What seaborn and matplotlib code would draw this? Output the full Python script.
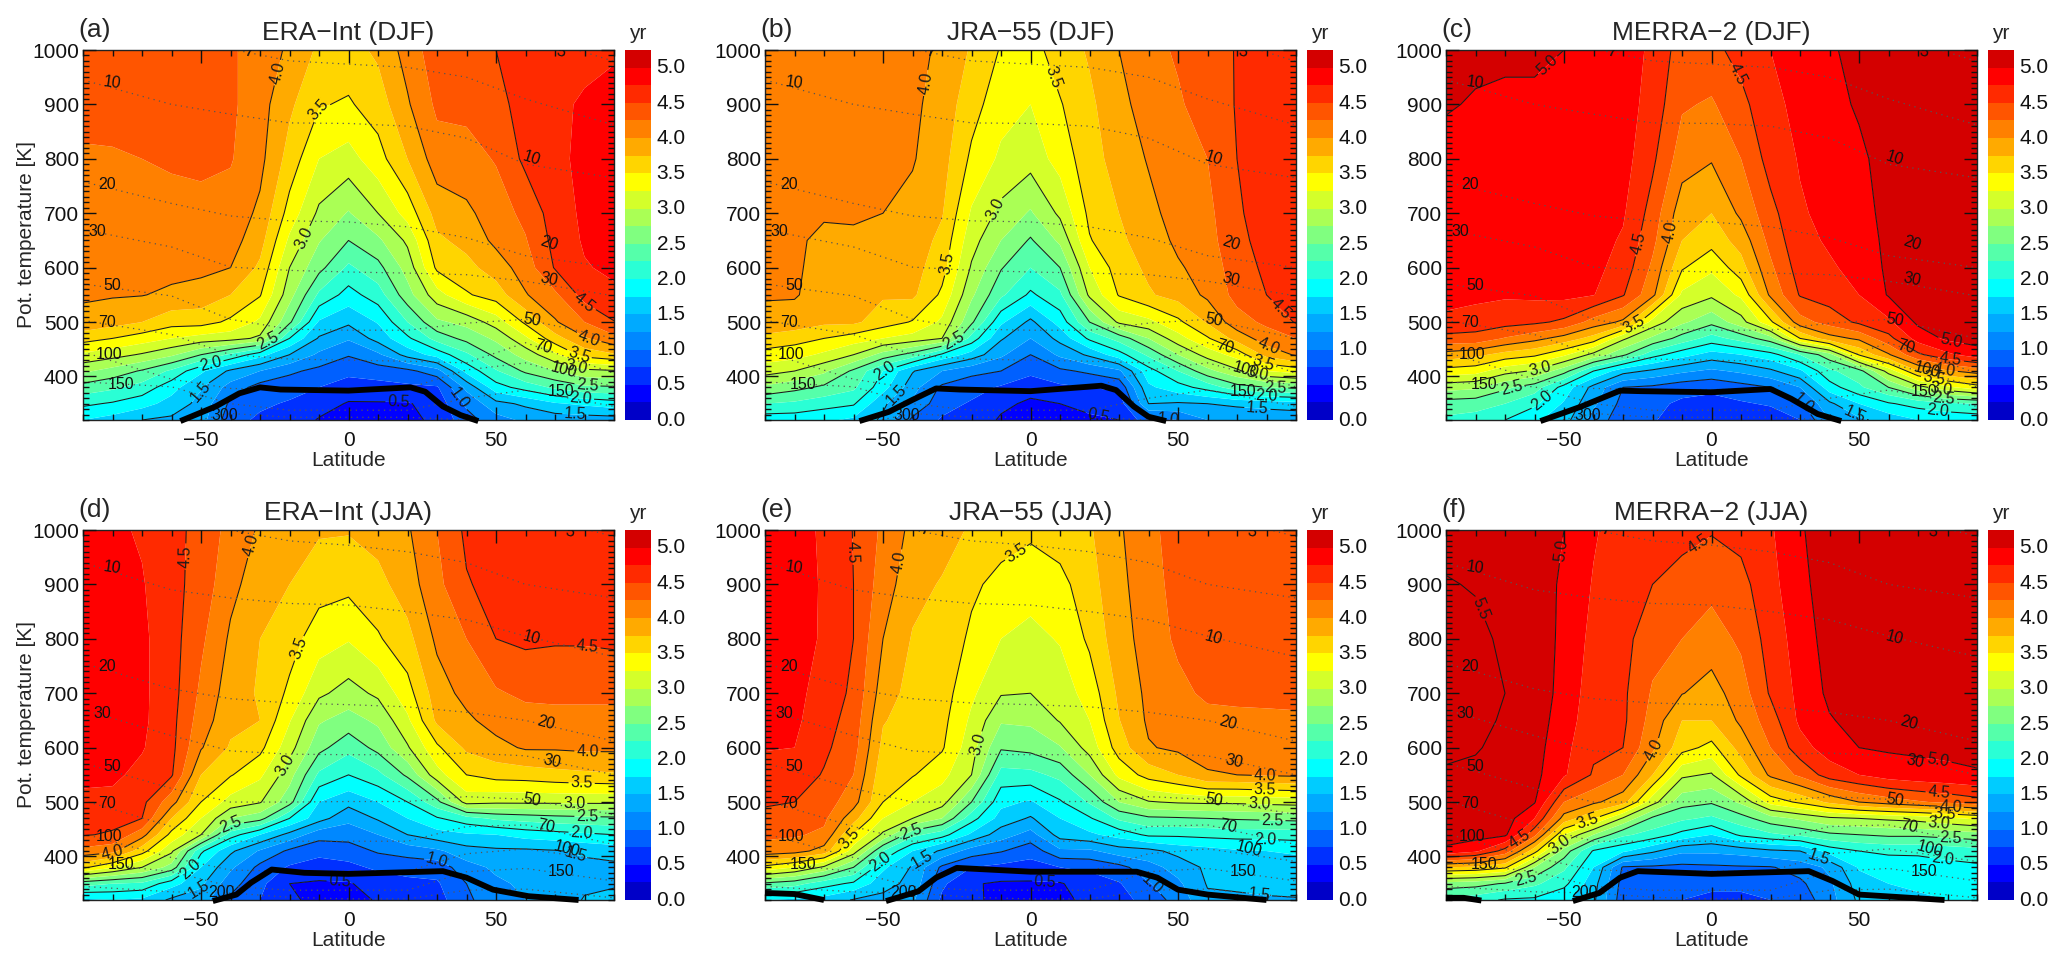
import numpy as np
import matplotlib
matplotlib.use("Agg")
import matplotlib.pyplot as plt
from matplotlib.colors import ListedColormap
from matplotlib.ticker import MultipleLocator
import seaborn as sns

lat = [-90, -80, -70, -60, -50, -40, -30, -20, -10, 0, 10, 20, 30, 40, 50, 60, 70, 80, 90]
theta = [320, 350, 380, 410, 440, 470, 500, 550, 600, 650, 700, 800, 900, 1000]

# age of air, one list per latitude, bottom to top
era_djf = [
    [1.75, 2.05, 2.40, 2.80, 3.20, 3.60, 3.93, 4.03, 4.07, 4.10, 4.15, 4.23, 4.30, 4.35],
    [1.65, 1.97, 2.30, 2.65, 3.10, 3.50, 3.85, 4.02, 4.07, 4.10, 4.15, 4.23, 4.32, 4.38],
    [1.50, 1.85, 2.15, 2.47, 2.97, 3.38, 3.75, 4.01, 4.08, 4.12, 4.16, 4.25, 4.33, 4.38],
    [1.45, 1.65, 1.85, 2.20, 2.80, 3.25, 3.60, 3.95, 4.08, 4.12, 4.17, 4.28, 4.33, 4.38],
    [1.35, 1.42, 1.52, 1.80, 2.50, 3.15, 3.60, 3.90, 4.06, 4.12, 4.18, 4.30, 4.35, 4.38],
    [0.85, 0.95, 1.15, 1.45, 2.20, 3.10, 3.45, 3.75, 4.00, 4.10, 4.15, 4.27, 4.30, 4.30],
    [0.70, 0.80, 0.90, 1.25, 1.85, 2.95, 3.20, 3.52, 3.70, 3.85, 3.95, 4.07, 4.10, 4.10],
    [0.65, 0.72, 0.85, 1.05, 1.50, 2.00, 2.55, 2.85, 3.00, 3.20, 3.40, 3.65, 3.80, 3.97],
    [0.48, 0.60, 0.75, 0.93, 1.20, 1.47, 1.72, 2.20, 2.58, 2.77, 2.95, 3.25, 3.52, 3.70],
    [0.42, 0.48, 0.63, 0.82, 1.02, 1.28, 1.55, 1.90, 2.20, 2.50, 2.73, 3.15, 3.47, 3.65],
    [0.42, 0.48, 0.65, 0.88, 1.20, 1.60, 1.77, 2.13, 2.42, 2.70, 3.00, 3.40, 3.62, 3.80],
    [0.44, 0.48, 0.70, 0.93, 1.60, 1.95, 2.25, 2.65, 2.85, 3.05, 3.35, 3.75, 3.97, 4.10],
    [0.55, 0.60, 0.72, 1.15, 1.85, 2.35, 2.70, 3.15, 3.55, 3.70, 3.85, 4.13, 4.30, 4.40],
    [0.90, 1.05, 1.32, 1.83, 2.20, 2.58, 2.83, 3.47, 3.67, 3.83, 3.95, 4.15, 4.32, 4.45],
    [1.15, 1.42, 1.90, 2.22, 2.57, 2.80, 3.12, 3.62, 3.87, 4.06, 4.12, 4.27, 4.38, 4.50],
    [1.30, 1.55, 2.10, 2.55, 2.85, 3.20, 3.55, 3.98, 4.12, 4.23, 4.32, 4.56, 4.65, 4.70],
    [1.35, 1.72, 2.30, 2.75, 3.20, 3.65, 3.97, 4.20, 4.52, 4.58, 4.62, 4.68, 4.70, 4.70],
    [1.37, 1.80, 2.45, 2.93, 3.60, 3.97, 4.25, 4.60, 4.73, 4.78, 4.80, 4.82, 4.78, 4.68],
    [1.38, 1.88, 2.47, 2.97, 3.72, 4.18, 4.49, 4.70, 4.80, 4.83, 4.85, 4.85, 4.83, 4.72],
]
jra_djf = [
    [1.85, 2.25, 2.70, 3.10, 3.40, 3.68, 3.93, 4.02, 4.05, 4.06, 4.08, 4.10, 4.13, 4.15],
    [1.85, 2.20, 2.58, 3.00, 3.35, 3.60, 3.90, 4.02, 4.03, 4.03, 4.05, 4.10, 4.15, 4.15],
    [1.80, 2.10, 2.45, 2.80, 3.20, 3.50, 3.80, 3.90, 3.93, 3.96, 4.02, 4.10, 4.15, 4.15],
    [1.70, 2.03, 2.30, 2.45, 3.00, 3.38, 3.80, 3.85, 3.90, 3.96, 4.03, 4.10, 4.13, 4.15],
    [1.45, 1.55, 1.85, 2.00, 2.65, 3.25, 3.62, 3.78, 3.85, 3.95, 4.00, 4.08, 4.10, 4.12],
    [0.95, 1.20, 1.35, 1.52, 2.40, 3.15, 3.48, 3.80, 3.85, 3.90, 3.93, 4.02, 4.05, 4.05],
    [0.72, 0.85, 0.95, 1.25, 1.95, 3.00, 3.20, 3.45, 3.60, 3.68, 3.77, 3.85, 3.90, 3.97],
    [0.65, 0.72, 0.85, 1.07, 1.65, 2.15, 2.55, 2.80, 2.97, 3.10, 3.22, 3.45, 3.60, 3.72],
    [0.47, 0.55, 0.72, 1.00, 1.30, 1.53, 1.80, 2.30, 2.52, 2.75, 2.93, 3.20, 3.35, 3.48],
    [0.40, 0.46, 0.58, 0.82, 1.00, 1.25, 1.44, 1.95, 2.25, 2.47, 2.72, 3.10, 3.25, 3.40],
    [0.42, 0.50, 0.70, 0.95, 1.30, 1.58, 1.85, 2.20, 2.50, 2.80, 3.05, 3.35, 3.48, 3.62],
    [0.47, 0.55, 0.75, 1.05, 1.55, 2.05, 2.50, 3.05, 3.25, 3.48, 3.56, 3.65, 3.70, 3.78],
    [0.50, 0.60, 0.80, 1.20, 1.90, 2.35, 3.05, 3.52, 3.62, 3.70, 3.75, 3.85, 3.92, 4.00],
    [0.90, 1.50, 1.70, 1.90, 2.30, 2.75, 3.18, 3.72, 3.80, 3.87, 3.93, 4.02, 4.12, 4.20],
    [1.00, 1.47, 1.90, 2.25, 2.75, 3.15, 3.44, 3.85, 3.97, 4.05, 4.10, 4.18, 4.23, 4.27],
    [1.25, 1.50, 2.10, 2.67, 3.10, 3.47, 3.78, 4.05, 4.10, 4.15, 4.18, 4.25, 4.32, 4.35],
    [1.30, 1.55, 2.40, 2.95, 3.35, 3.85, 4.15, 4.33, 4.38, 4.44, 4.47, 4.50, 4.52, 4.52],
    [1.30, 1.60, 2.50, 3.25, 3.83, 4.13, 4.30, 4.50, 4.55, 4.58, 4.60, 4.62, 4.62, 4.60],
    [1.30, 1.65, 2.55, 3.35, 4.03, 4.25, 4.52, 4.58, 4.60, 4.63, 4.65, 4.67, 4.67, 4.65],
]
merra_djf = [
    [2.20, 2.38, 2.85, 3.40, 3.90, 4.42, 4.70, 4.82, 4.84, 4.85, 4.88, 4.92, 5.02, 5.10],
    [2.15, 2.35, 2.80, 3.35, 3.82, 4.42, 4.62, 4.82, 4.85, 4.87, 4.90, 4.93, 4.98, 5.05],
    [2.00, 2.25, 2.55, 3.10, 3.65, 4.23, 4.60, 4.78, 4.83, 4.86, 4.90, 4.93, 4.97, 5.03],
    [1.80, 2.05, 2.37, 2.97, 3.55, 4.08, 4.55, 4.80, 4.83, 4.86, 4.90, 4.93, 4.97, 5.03],
    [1.60, 1.72, 1.90, 2.60, 3.30, 3.90, 4.45, 4.82, 4.84, 4.86, 4.90, 4.92, 4.96, 5.00],
    [1.15, 1.30, 1.42, 2.00, 2.92, 3.65, 4.15, 4.76, 4.82, 4.85, 4.88, 4.92, 4.95, 4.98],
    [0.85, 0.92, 1.00, 1.60, 2.55, 3.05, 3.95, 4.52, 4.65, 4.72, 4.78, 4.85, 4.87, 4.88],
    [0.78, 0.82, 0.95, 1.45, 2.10, 2.70, 3.15, 4.07, 4.20, 4.32, 4.40, 4.55, 4.65, 4.70],
    [0.60, 0.70, 0.85, 1.30, 1.85, 2.40, 2.80, 3.20, 3.53, 3.75, 3.85, 4.12, 4.28, 4.38],
    [0.50, 0.68, 0.80, 1.20, 1.65, 2.15, 2.57, 3.05, 3.30, 3.60, 3.75, 4.02, 4.22, 4.42],
    [0.55, 0.72, 0.90, 1.30, 1.75, 2.35, 2.90, 3.30, 3.65, 3.85, 4.05, 4.25, 4.42, 4.60],
    [0.60, 0.78, 1.00, 1.45, 1.90, 2.65, 3.45, 4.05, 4.20, 4.33, 4.42, 4.60, 4.70, 4.75],
    [0.75, 0.95, 1.25, 1.70, 2.25, 3.50, 4.15, 4.52, 4.62, 4.68, 4.72, 4.77, 4.80, 4.85],
    [1.25, 1.45, 1.88, 2.20, 2.65, 3.90, 4.35, 4.62, 4.72, 4.78, 4.82, 4.87, 4.92, 4.97],
    [1.45, 1.75, 2.20, 2.40, 3.52, 4.05, 4.55, 4.75, 4.82, 4.85, 4.90, 4.95, 5.03, 5.07],
    [1.60, 1.97, 2.50, 3.10, 3.97, 4.42, 4.70, 5.02, 5.05, 5.07, 5.08, 5.10, 5.12, 5.14],
    [1.75, 2.10, 2.90, 3.75, 4.45, 4.85, 5.05, 5.10, 5.12, 5.13, 5.13, 5.15, 5.15, 5.15],
    [1.80, 2.20, 3.20, 3.97, 4.70, 5.05, 5.10, 5.13, 5.14, 5.15, 5.15, 5.15, 5.15, 5.15],
    [1.85, 2.25, 3.40, 4.10, 4.88, 5.10, 5.13, 5.14, 5.15, 5.15, 5.15, 5.15, 5.15, 5.15],
]
era_jja = [
    [1.70, 2.35, 3.55, 4.17, 4.52, 4.60, 4.70, 4.80, 4.85, 4.87, 4.90, 4.90, 4.87, 4.83],
    [1.75, 2.25, 3.28, 4.08, 4.47, 4.58, 4.68, 4.80, 4.83, 4.85, 4.87, 4.87, 4.85, 4.80],
    [1.70, 2.20, 3.00, 3.60, 4.10, 4.50, 4.57, 4.68, 4.77, 4.80, 4.80, 4.80, 4.77, 4.72],
    [1.45, 1.85, 2.65, 3.05, 3.42, 3.75, 4.10, 4.53, 4.57, 4.58, 4.60, 4.60, 4.58, 4.55],
    [1.38, 1.55, 1.75, 2.05, 3.00, 3.25, 3.50, 3.75, 4.02, 4.13, 4.20, 4.30, 4.40, 4.45],
    [0.95, 1.10, 1.30, 1.55, 2.12, 2.75, 3.15, 3.52, 3.72, 3.82, 3.87, 3.96, 4.07, 4.15],
    [0.75, 0.82, 0.93, 1.22, 1.75, 2.60, 3.02, 3.30, 3.57, 3.75, 3.72, 3.75, 3.87, 3.97],
    [0.55, 0.50, 0.72, 0.95, 1.42, 2.00, 2.60, 2.85, 3.10, 3.27, 3.45, 3.60, 3.75, 3.87],
    [0.42, 0.47, 0.63, 0.83, 1.10, 1.60, 1.75, 2.20, 2.58, 2.78, 3.05, 3.37, 3.60, 3.78],
    [0.42, 0.48, 0.68, 0.88, 1.10, 1.32, 1.58, 2.00, 2.33, 2.65, 2.90, 3.27, 3.57, 3.77],
    [0.52, 0.60, 0.80, 1.03, 1.25, 1.53, 1.75, 2.18, 2.58, 2.80, 3.05, 3.47, 3.67, 3.85],
    [0.60, 0.68, 0.85, 1.10, 1.50, 1.75, 2.00, 2.55, 2.97, 3.20, 3.40, 3.67, 3.88, 3.97],
    [0.65, 0.72, 0.85, 1.20, 1.65, 1.97, 2.42, 3.15, 3.45, 3.80, 3.88, 4.05, 4.18, 4.25],
    [0.95, 1.00, 1.15, 1.40, 1.72, 2.15, 3.10, 3.50, 3.80, 3.95, 4.08, 4.25, 4.48, 4.55],
    [1.15, 1.20, 1.30, 1.45, 1.75, 2.30, 3.05, 3.60, 3.92, 4.10, 4.22, 4.50, 4.58, 4.62],
    [1.25, 1.30, 1.38, 1.45, 1.85, 2.35, 3.05, 3.62, 4.03, 4.15, 4.30, 4.55, 4.62, 4.63],
    [1.33, 1.38, 1.42, 1.48, 1.90, 2.40, 3.05, 3.67, 4.03, 4.18, 4.30, 4.53, 4.60, 4.58],
    [1.52, 1.45, 1.42, 1.55, 1.95, 2.43, 3.05, 3.70, 4.05, 4.18, 4.30, 4.53, 4.58, 4.55],
    [1.58, 1.47, 1.44, 1.60, 2.00, 2.45, 3.05, 3.72, 4.05, 4.18, 4.30, 4.55, 4.56, 4.52],
]
jra_jja = [
    [1.75, 2.45, 3.43, 4.15, 4.30, 4.43, 4.53, 4.68, 4.76, 4.82, 4.87, 4.90, 4.88, 4.83],
    [1.70, 2.35, 3.25, 4.10, 4.28, 4.42, 4.50, 4.63, 4.75, 4.80, 4.82, 4.85, 4.83, 4.80],
    [1.65, 2.10, 2.95, 3.90, 4.20, 4.30, 4.38, 4.48, 4.55, 4.60, 4.65, 4.72, 4.73, 4.73],
    [1.48, 1.95, 2.50, 3.12, 3.48, 3.85, 4.10, 4.25, 4.35, 4.40, 4.45, 4.50, 4.50, 4.49],
    [1.42, 1.60, 1.80, 2.25, 2.95, 3.25, 3.50, 3.58, 3.68, 3.77, 3.87, 4.00, 4.13, 4.20],
    [1.30, 1.42, 1.47, 1.75, 2.33, 3.00, 3.25, 3.52, 3.58, 3.63, 3.66, 3.73, 3.83, 3.93],
    [0.70, 0.80, 0.95, 1.45, 2.10, 2.75, 3.10, 3.33, 3.53, 3.58, 3.62, 3.68, 3.73, 3.85],
    [0.55, 0.52, 0.75, 1.13, 1.70, 2.10, 2.50, 3.00, 3.10, 3.20, 3.30, 3.45, 3.55, 3.72],
    [0.43, 0.47, 0.68, 1.02, 1.37, 1.65, 1.82, 2.15, 2.53, 2.78, 3.02, 3.25, 3.42, 3.62],
    [0.42, 0.47, 0.65, 0.85, 1.15, 1.47, 1.72, 2.17, 2.58, 2.80, 3.00, 3.18, 3.35, 3.55],
    [0.45, 0.48, 0.75, 1.20, 1.60, 1.75, 1.97, 2.32, 2.73, 3.02, 3.12, 3.27, 3.42, 3.63],
    [0.55, 0.62, 0.80, 1.20, 1.70, 1.97, 2.28, 2.75, 3.10, 3.25, 3.35, 3.55, 3.65, 3.72],
    [0.65, 0.73, 0.92, 1.38, 1.85, 2.30, 2.75, 3.32, 3.62, 3.74, 3.80, 3.90, 3.94, 3.97],
    [0.85, 0.98, 1.15, 1.42, 2.05, 2.45, 2.98, 3.60, 3.98, 4.04, 4.06, 4.10, 4.13, 4.17],
    [1.10, 1.20, 1.35, 1.58, 2.05, 2.47, 3.03, 3.75, 4.05, 4.12, 4.18, 4.30, 4.35, 4.38],
    [1.45, 1.52, 1.55, 1.65, 2.08, 2.50, 3.05, 3.98, 4.08, 4.17, 4.30, 4.35, 4.38, 4.40],
    [1.45, 1.55, 1.60, 1.72, 2.10, 2.53, 3.05, 4.00, 4.10, 4.20, 4.30, 4.36, 4.38, 4.38],
    [1.47, 1.58, 1.63, 1.75, 2.10, 2.55, 3.08, 4.03, 4.12, 4.21, 4.30, 4.36, 4.38, 4.38],
    [1.48, 1.60, 1.65, 1.78, 2.12, 2.57, 3.10, 4.05, 4.13, 4.22, 4.30, 4.36, 4.38, 4.38],
]
merra_jja = [
    [2.15, 2.65, 3.75, 4.95, 5.10, 5.18, 5.30, 5.47, 5.55, 5.60, 5.62, 5.60, 5.52, 5.40],
    [2.10, 2.60, 3.70, 4.80, 5.10, 5.20, 5.30, 5.42, 5.53, 5.57, 5.60, 5.57, 5.48, 5.38],
    [1.97, 2.47, 3.55, 4.40, 5.05, 5.12, 5.20, 5.32, 5.40, 5.47, 5.50, 5.45, 5.30, 5.20],
    [1.95, 2.30, 2.75, 3.60, 4.32, 4.75, 5.02, 5.07, 5.10, 5.13, 5.17, 5.17, 5.12, 5.08],
    [1.80, 2.07, 2.30, 2.65, 3.25, 3.90, 4.25, 4.78, 4.82, 4.87, 4.90, 4.93, 4.96, 5.00],
    [1.55, 1.60, 1.75, 1.97, 2.75, 3.52, 4.05, 4.47, 4.55, 4.60, 4.63, 4.68, 4.73, 4.78],
    [0.85, 0.90, 0.97, 1.80, 2.30, 2.97, 3.85, 4.25, 4.50, 4.55, 4.55, 4.58, 4.60, 4.62],
    [0.80, 0.85, 0.95, 1.55, 2.15, 2.45, 3.10, 3.75, 4.05, 4.15, 4.22, 4.35, 4.50, 4.60],
    [0.75, 0.82, 0.93, 1.30, 1.92, 2.30, 2.60, 3.05, 3.60, 3.75, 4.01, 4.25, 4.42, 4.57],
    [0.70, 0.80, 0.95, 1.30, 1.75, 2.20, 2.53, 2.97, 3.42, 3.75, 3.90, 4.13, 4.33, 4.52],
    [0.70, 0.80, 0.97, 1.35, 2.05, 2.40, 2.80, 3.55, 3.85, 4.05, 4.13, 4.30, 4.42, 4.58],
    [0.75, 0.85, 0.98, 1.45, 2.20, 2.65, 3.35, 4.05, 4.25, 4.38, 4.53, 4.60, 4.67, 4.72],
    [0.85, 0.95, 1.10, 1.50, 2.30, 2.80, 3.55, 4.30, 4.65, 4.80, 4.82, 4.87, 4.93, 4.97],
    [1.15, 1.20, 1.30, 1.85, 2.45, 2.95, 3.80, 4.62, 4.87, 4.98, 5.05, 5.10, 5.13, 5.15],
    [1.55, 1.62, 1.78, 2.00, 2.50, 3.00, 4.00, 4.75, 5.00, 5.08, 5.12, 5.15, 5.15, 5.15],
    [1.70, 1.75, 1.85, 2.05, 2.55, 3.05, 4.12, 4.87, 5.03, 5.08, 5.12, 5.15, 5.15, 5.15],
    [1.72, 1.78, 1.88, 2.05, 2.55, 3.10, 4.22, 4.92, 5.04, 5.08, 5.12, 5.15, 5.15, 5.15],
    [1.75, 1.80, 1.92, 2.10, 2.60, 3.20, 4.30, 4.95, 5.05, 5.10, 5.12, 5.15, 5.15, 5.15],
    [1.78, 1.83, 1.95, 2.15, 2.65, 3.30, 4.40, 4.98, 5.06, 5.10, 5.12, 5.15, 5.15, 5.15],
]

# thermal tropopause, (latitudes, theta) pieces
tropo_era_djf = [([-57, -45, -37, -30, -23, 0, 21, 26, 32, 38, 44], [318, 345, 369, 380, 376, 374, 380, 372, 345, 329, 318])]
tropo_jra_djf = [([-58, -48, -40, -32, -24, 0, 24, 29, 35, 40, 46], [318, 335, 357, 378, 376, 373, 383, 375, 345, 326, 318])]
tropo_merra_djf = [([-58, -44, -31, -24, 0, 20, 27, 36, 44], [318, 345, 374, 373, 371, 377, 359, 331, 318])]
tropo_era_jja = [([-46, -38, -33, -26, -15, 0, 32, 40, 49, 61, 78], [318, 330, 352, 376, 370, 368, 373, 361, 339, 327, 320])]
tropo_jra_jja = [([-90, -80, -70], [333, 331, 320]),
                 ([-49, -38, -32, -25, 0, 36, 43, 50, 60, 80], [318, 336, 361, 379, 372, 372, 361, 339, 330, 320])]
tropo_merra_jja = [([-90, -84, -78], [324, 324, 319]),
                   ([-47, -38, -31, -25, 0, 33, 41, 50, 79], [318, 333, 361, 373, 368, 373, 355, 330, 320])]

# pressure surfaces (hPa) as theta along these latitudes
p_lat = [-90, -60, -40, -20, 0, 20, 40, 60, 90]
p_djf = {
    5: [1150, 1130, 1120, 1110, 1105, 1100, 1090, 1030, 979],
    7: [1050, 1030, 1002, 980, 974, 968, 950, 910, 862],
    10: [945, 900, 882, 866, 865, 860, 838, 790, 765],
    20: [758, 718, 695, 686, 684, 675, 655, 622, 600],
    30: [670, 638, 601, 595, 592, 590, 587, 575, 548],
    50: [570, 548, 505, 487, 485, 485, 498, 505, 470],
    70: [503, 477, 440, 432, 430, 428, 425, 462, 406],
    100: [445, 395, 378, 376, 376, 378, 412, 425, 381],
    150: [390, 381, 350, 338, 338, 338, 360, 375, 345],
    300: [290, 310, 332, 325, 325, 325, 320, 300, 300],
}
p_jja = {
    5: [1150, 1130, 1120, 1110, 1105, 1100, 1100, 1030, 988],
    7: [1060, 1030, 1000, 980, 972, 960, 940, 900, 875],
    10: [940, 890, 875, 865, 862, 850, 835, 805, 767],
    20: [755, 708, 690, 682, 679, 675, 665, 650, 612],
    30: [670, 622, 594, 588, 587, 587, 590, 585, 550],
    50: [572, 525, 500, 500, 501, 501, 510, 505, 477],
    70: [503, 455, 428, 428, 428, 428, 455, 458, 422],
    100: [442, 398, 375, 373, 373, 373, 405, 414, 391],
    150: [390, 372, 345, 338, 338, 338, 372, 378, 355],
    200: [345, 335, 333, 325, 322, 322, 338, 340, 324],
}
p_labels_djf = [("5", 72, 997, -15), ("7", -34, 997, -15), ("10", -80, 939, -8), ("10", 62, 800, -18),
                ("20", -82, 753, 0), ("20", 68, 645, -18), ("30", -85, 666, 0), ("30", 68, 578, -12),
                ("50", -80, 567, 0), ("50", 62, 504, -10), ("70", -82, 500, 0), ("70", 66, 455, -15),
                ("100", -81, 441, 0), ("100", 73, 412, -15), ("150", -77, 386, 0), ("150", 72, 372, 0),
                ("300", -42, 328, 0)]
p_labels_jja = [("5", 75, 997, -15), ("7", -36, 1000, -15), ("10", -80, 931, -8), ("10", 62, 801, -15),
                ("20", -82, 749, 0), ("20", 67, 645, -15), ("30", -83.5, 662, 0), ("30", 69, 575, -12),
                ("50", -80, 565, 0), ("50", 62, 503, -10), ("70", -82, 498, 0), ("70", 67, 456, -12),
                ("100", -81, 437, 0), ("100", 74, 413, -15), ("150", -77, 385, 0), ("150", 72, 373, 0),
                ("200", -43, 333, 0)]

# where the age contours carry their numbers: (level, lat, theta)
clab_era_djf = [(4.0, -23, 957), (3.5, -10, 890), (3.0, -17, 660), (2.5, -28, 473), (2.0, -47, 430), (1.5, -51, 375),
                (0.5, 17, 365), (1.0, 37, 357), (4.5, 79, 527), (4.0, 81, 464), (3.5, 78, 437), (3.0, 77, 412),
                (2.5, 81, 387), (2.0, 79, 369), (1.5, 77, 340)]
clab_jra_djf = [(4.0, -36, 940), (3.5, -27, 608), (3.0, -12, 708), (2.5, -27, 476), (2.0, -50, 418), (1.5, -47, 375),
                (0.5, 24, 354), (1.0, 47, 332), (3.5, 10, 955), (4.5, 84, 519), (4.0, 80, 446), (3.5, 79, 424),
                (3.0, 77, 409), (2.5, 83, 384), (2.0, 80, 369), (1.5, 77, 348)]
clab_merra_djf = [(5.0, -54, 963), (4.5, -24.5, 644), (4.0, -14, 666), (3.5, -26, 491), (3.0, -59, 429), (2.5, -68, 383),
                  (2.0, -57, 353), (4.5, 9.5, 957), (1.0, 33, 359), (1.5, 49, 334), (2.0, 77, 345), (2.5, 79, 368),
                  (3.0, 78, 383), (3.5, 75.5, 399), (4.0, 79, 411), (4.5, 81, 426), (5.0, 81, 459)]
clab_era_jja = [(4.5, -54, 951), (4.0, -31, 969), (3.5, -17, 783), (3.0, -21, 566), (2.5, -40, 465), (2.0, -54.5, 385),
                (1.5, -51, 343), (4.0, -80, 404), (0.5, -3, 355), (1.0, 31, 404), (4.5, 81, 784), (4.0, 81, 591),
                (3.5, 79, 530), (3.0, 76.5, 498), (2.5, 81, 474), (2.0, 79, 445), (1.5, 77, 404)]
clab_jra_jja = [(4.5, -62, 960), (4.0, -46, 942), (3.5, -61, 431), (2.5, -41, 450), (2.0, -51, 391), (1.5, -38, 406),
                (3.5, -5.5, 963), (3.0, -19, 609), (0.5, 5, 361), (1.0, 41, 348), (4.0, 79.5, 552), (3.5, 79.5, 518),
                (3.0, 77.5, 489), (2.5, 82, 466), (2.0, 79.5, 434), (1.5, 77.5, 333)]
clab_merra_jja = [(5.5, -75.4, 862), (5.0, -51, 963), (4.5, -5, 979), (4.5, -65, 431), (4.0, -19, 593), (3.5, -42, 465),
                  (3.0, -52, 425), (2.5, -63, 358), (1.5, 37, 407), (5.0, 77, 579), (4.5, 77, 515), (4.0, 81, 489),
                  (3.5, 79, 470), (3.0, 77, 453), (2.5, 81, 432), (2.0, 78.5, 403)]

band_colors = ["#0000c8", "#0000ff", "#0030ff", "#0060ff", "#0088ff", "#00aaff", "#00ccff", "#00ffff",
               "#2affd5", "#55ffaa", "#80ff80", "#aaff55", "#d4ff2a", "#ffff00", "#ffd500", "#ffaa00",
               "#ff8000", "#ff5500", "#ff2a00", "#ff0000", "#d40000"]
fill_levels = [0.25 * i for i in range(21)] + [6.0]
line_levels = [0.5 * i for i in range(1, 12)]
bar_labels = [0.5 * i for i in range(11)]

sns.set_style("ticks")
plt.rcParams["font.family"] = ["Liberation Sans", "DejaVu Sans"]
plt.rcParams["xtick.color"] = "#111111"
plt.rcParams["ytick.color"] = "#111111"
palette = sns.color_palette(band_colors)
cmap = ListedColormap(palette)

W, H = 2067, 967
fig = plt.figure(figsize=(W / 100, H / 100), dpi=100)

panels = [
    ("(a)", "ERA\u2212Int (DJF)", era_djf, tropo_era_djf, p_djf, p_labels_djf, clab_era_djf, 83, 50),
    ("(b)", "JRA\u221255 (DJF)", jra_djf, tropo_jra_djf, p_djf, p_labels_djf, clab_jra_djf, 765, 50),
    ("(c)", "MERRA\u22122 (DJF)", merra_djf, tropo_merra_djf, p_djf, p_labels_djf, clab_merra_djf, 1446, 50),
    ("(d)", "ERA\u2212Int (JJA)", era_jja, tropo_era_jja, p_jja, p_labels_jja, clab_era_jja, 83, 530),
    ("(e)", "JRA\u221255 (JJA)", jra_jja, tropo_jra_jja, p_jja, p_labels_jja, clab_jra_jja, 765, 530),
    ("(f)", "MERRA\u22122 (JJA)", merra_jja, tropo_merra_jja, p_jja, p_labels_jja, clab_merra_jja, 1446, 530),
]

for letter, title, age, tropo, plines, plabels, clabs, left, top in panels:
    ax = fig.add_axes([left / W, 1 - (top + 370) / H, 531 / W, 370 / H])
    z = np.array(age).T
    ax.contourf(lat, theta, z, levels=fill_levels, colors=band_colors, antialiased=True)

    # one contour set per level, so a label can only land on its own level
    for lev in line_levels:
        if z.min() < lev < z.max():
            cs = ax.contour(lat, theta, z, levels=[lev], colors="#1a1a1a", linewidths=0.75)
            pts = [(xl, yl) for lv, xl, yl in clabs if lv == lev]
            if pts:
                ax.clabel(cs, manual=pts, fmt="%.1f", fontsize=11.5, inline=True, inline_spacing=2)

    for p, vals in plines.items():
        sns.lineplot(x=p_lat, y=vals, ax=ax, color="#555555", linewidth=0.9, linestyle=(0, (1, 3.5)), errorbar=None)
    for txt, xl, yl, rot in plabels:
        ax.text(xl, yl, txt, fontsize=11.5, ha="center", va="center", rotation=rot, color="#111111", clip_on=True)

    for xs, ys in tropo:
        sns.lineplot(x=xs, y=ys, ax=ax, color="black", linewidth=4.2, errorbar=None,
                     clip_on=False, solid_capstyle="butt", zorder=5)

    ax.set_xlim(-90, 90)
    ax.set_ylim(320, 1000)
    ax.set_axisbelow(False)
    ax.xaxis.set_major_locator(MultipleLocator(50))
    ax.xaxis.set_minor_locator(MultipleLocator(10))
    ax.set_yticks([400, 500, 600, 700, 800, 900, 1000])
    ax.yaxis.set_minor_locator(MultipleLocator(10))
    ax.tick_params(which="major", direction="in", top=True, right=True, length=9.5, width=1.0, labelsize=15)
    ax.tick_params(which="minor", direction="in", top=True, right=True, length=4.5, width=1.0)
    ax.tick_params(axis="x", which="major", pad=8)
    ax.tick_params(axis="y", which="major", pad=3)
    for spine in ax.spines.values():
        spine.set_linewidth(1.0)
        spine.set_color("#222222")
    ax.set_xlabel("Latitude", fontsize=15, labelpad=1)
    if left == 83:
        ax.set_ylabel("Pot. temperature [K]", fontsize=15)
        ax.yaxis.set_label_coords(-0.088, 0.5)
    else:
        ax.set_ylabel("")
    ax.set_title(title, fontsize=19, pad=7)
    ax.text(-0.008, 1.022, letter, transform=ax.transAxes, fontsize=19, ha="left", va="bottom")

    cax = fig.add_axes([(left + 542) / W, 1 - (top + 370) / H, 26 / W, 370 / H])
    sns.heatmap(np.arange(20, -1, -1).reshape(-1, 1), ax=cax, cmap=cmap, cbar=False,
                xticklabels=False, yticklabels=False, vmin=-0.5, vmax=20.5)
    cax.yaxis.tick_right()
    cax.set_yticks([(5.25 - v) / 0.25 - 0.1 for v in bar_labels])
    cax.set_yticklabels(["%.1f" % v for v in bar_labels], rotation=0, fontsize=15)
    cax.tick_params(axis="y", length=0, pad=4)
    cax.text(0.5, 1.02, "yr", transform=cax.transAxes, fontsize=15, ha="center", va="bottom")

fig.savefig("out.png", dpi=100)
